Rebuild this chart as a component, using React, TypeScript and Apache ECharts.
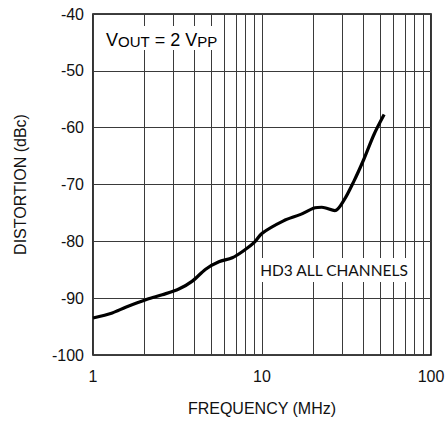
import React, { useEffect, useRef } from "react";
import * as echarts from "echarts";

const freqMHz = [1, 1.3, 1.56, 2.09, 2.57, 3.22, 3.87, 4.64, 5.56, 6.67, 8.0, 9.0, 10, 13.4, 16.8, 20.6, 22.6, 27, 30.5, 35, 40, 46, 52.8];
const distortionDbc = [-93.5, -92.6, -91.6, -90.2, -89.4, -88.4, -87.0, -84.9, -83.6, -82.9, -81.4, -80.2, -78.6, -76.4, -75.3, -74.1, -74.0, -74.6, -72.8, -69.4, -65.6, -61.2, -57.7];
const minorGridFreqs = [2, 3, 4, 5, 6, 7, 8, 9, 20, 30, 40, 50, 60, 70, 80, 90];
const yMin = -100;
const yMax = -40;
const yStep = 10;
const xMin = 1;
const xMax = 100;

export default function App() {
  const ref = useRef<HTMLDivElement>(null);
  useEffect(() => {
    document.body.style.margin = "0";
    const chart = echarts.init(ref.current!, null, { renderer: "svg" });
    const font = "Liberation Sans";
    chart.setOption({
      animation: false,
      backgroundColor: "#fff",
      grid: { left: 93, right: 17, top: 14, bottom: 65, show: true, borderColor: "#000", borderWidth: 1.6, backgroundColor: "transparent" },
      xAxis: {
        type: "log",
        logBase: 10,
        min: xMin,
        max: xMax,
        name: "FREQUENCY (MHz)",
        nameLocation: "middle",
        nameGap: 45,
        nameTextStyle: { fontFamily: font, fontSize: 16, color: "#111" },
        axisLine: { show: false },
        axisTick: { show: false },
        axisLabel: { fontFamily: font, fontSize: 16, color: "#111", margin: 13 },
        splitLine: { show: true, lineStyle: { color: "#3a3a3a", width: 1 } },
      },
      yAxis: {
        type: "value",
        min: yMin,
        max: yMax,
        interval: yStep,
        name: "DISTORTION (dBc)",
        nameLocation: "middle",
        nameGap: 65,
        nameTextStyle: { fontFamily: font, fontSize: 16, color: "#111" },
        axisLine: { show: false },
        axisTick: { show: false },
        axisLabel: { fontFamily: font, fontSize: 16, color: "#111", margin: 9 },
        splitLine: { show: true, lineStyle: { color: "#3a3a3a", width: 1 } },
      },
      series: [
        {
          type: "line",
          data: freqMHz.map((f, i) => [f, distortionDbc[i]]),
          smooth: 0.3,
          symbol: "none",
          lineStyle: { color: "#000", width: 3.2 },
          z: 5,
          markLine: {
            silent: true,
            symbol: "none",
            label: { show: false },
            lineStyle: { color: "#3a3a3a", width: 1, type: "solid" },
            data: minorGridFreqs.map((f) => ({ xAxis: f })),
            z: 1,
          },
        },
      ],
      graphic: [
        {
          type: "text",
          x: 104,
          y: 26,
          z: 10,
          style: {
            text: "{m|V}{s|OUT}{m| = 2 V}{s|PP}",
            backgroundColor: "#fff",
            padding: [1, 2, 1, 2],
            rich: {
              m: { fontFamily: font, fontSize: 18, color: "#111", lineHeight: 22, verticalAlign: "bottom" },
              s: { fontFamily: font, fontSize: 15, color: "#111", lineHeight: 14, verticalAlign: "bottom" },
            },
          },
        },
        {
          type: "text",
          x: 334,
          y: 270,
          z: 10,
          style: {
            text: "HD3 ALL CHANNELS",
            fontFamily: "Lato",
            fontSize: 15.5,
            fill: "#111",
            align: "center",
            verticalAlign: "middle",
            backgroundColor: "#fff",
            padding: [4, 2, 4, 2],
          },
        },
      ],
    });
    return () => chart.dispose();
  }, []);
  return <div ref={ref} style={{ width: 448, height: 421, position: "absolute", left: 0, top: 0 }} />;
}
